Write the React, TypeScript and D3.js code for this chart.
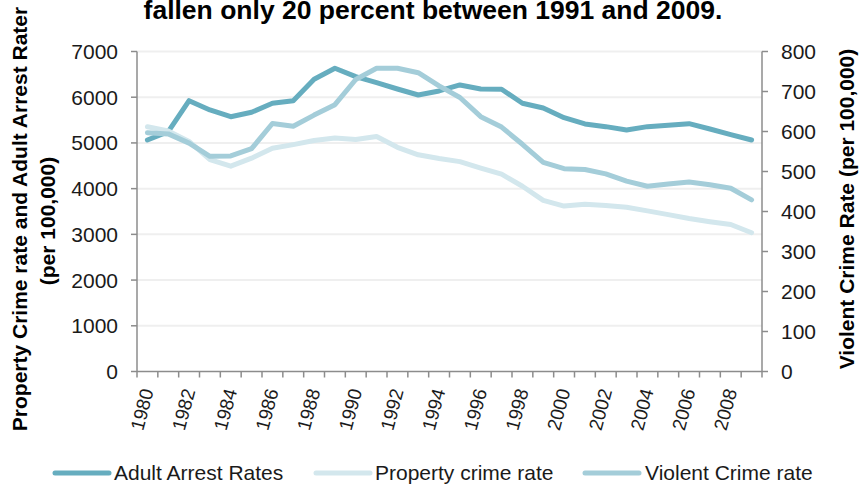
import React from "react";
import * as d3 from "d3";

const years: number[] = d3.range(1980, 2010);
const adultArrest: number[] = [5064, 5246, 5924, 5721, 5574, 5671, 5867, 5924, 6392, 6633, 6449, 6318, 6180, 6049, 6137, 6268, 6180, 6174, 5867, 5765, 5552, 5415, 5356, 5283, 5356, 5386, 5421, 5305, 5181, 5064];
const propertyCrime: number[] = [5353, 5264, 5033, 4637, 4492, 4666, 4882, 4963, 5054, 5107, 5073, 5140, 4904, 4740, 4660, 4591, 4451, 4316, 4053, 3744, 3618, 3658, 3631, 3591, 3514, 3432, 3347, 3276, 3215, 3036];
const violentCrime: number[] = [597, 594, 571, 538, 539, 557, 620, 613, 641, 667, 730, 758, 758, 747, 714, 685, 637, 611, 568, 523, 507, 505, 494, 476, 463, 469, 474, 467, 458, 429];
const leftTicks: number[] = [0, 1000, 2000, 3000, 4000, 5000, 6000, 7000];
const rightTicks: number[] = [0, 100, 200, 300, 400, 500, 600, 700, 800];
const xLabels: number[] = years.filter((y) => (y - 1980) % 2 === 0);

const seriesNames = ["Adult Arrest Rates", "Property crime rate", "Violent Crime rate"];
const colors = ["#66adbf", "#d3e7ed", "#a4cdd9"];

const W = 865;
const H = 489;
const FONT = "'Liberation Sans', Arial, sans-serif";

export default function App() {
  const x0 = 137, x1 = 762, yTop = 51.5, yBot = 371.5;
  const xBand = d3.scaleBand<number>().domain(years).range([x0, x1]).padding(0);
  const xc = (y: number) => (xBand(y) as number) + xBand.bandwidth() / 2;
  const yL = d3.scaleLinear().domain([0, 7000]).range([yBot, yTop]);
  const yR = d3.scaleLinear().domain([0, 800]).range([yBot, yTop]);

  const lineL = d3.line<number>().x((_, i) => xc(years[i])).y((d) => yL(d));
  const lineR = d3.line<number>().x((_, i) => xc(years[i])).y((d) => yR(d));

  const axisColor = "#8c8c8c";
  const boundaries = d3.range(years.length + 1).map((i) => x0 + i * xBand.bandwidth());

  const legendItems = [
    { name: seriesNames[0], color: colors[0], lx: 55, tx: 114 },
    { name: seriesNames[1], color: colors[1], lx: 316, tx: 375 },
    { name: seriesNames[2], color: colors[2], lx: 585, tx: 645 },
  ];

  return (
    <svg width={W} height={H} style={{ position: "absolute", left: 0, top: 0, background: "#fff" }} fontFamily={FONT}>
      <rect width={W} height={H} fill="#fff" />
      {/* Title */}
      <text x={433} y={19} textAnchor="middle" fontSize={26.5} fontWeight="bold" fill="#000">
        fallen only 20 percent between 1991 and 2009.
      </text>

      {/* Gridlines */}
      {leftTicks.filter((t) => t > 0).map((t) => (
        <line key={"g" + t} x1={x0} x2={x1} y1={yL(t)} y2={yL(t)} stroke="#efefef" strokeWidth={2} />
      ))}

      {/* Left axis */}
      <line x1={x0} x2={x0} y1={yTop} y2={yBot} stroke={axisColor} strokeWidth={1.5} />
      {leftTicks.map((t) => (
        <g key={"l" + t}>
          <line x1={x0 - 6} x2={x0} y1={yL(t)} y2={yL(t)} stroke={axisColor} strokeWidth={1.5} />
          <text x={118} y={yL(t)} dy="0.36em" textAnchor="end" fontSize={21} fill="#1a1a1a">{t}</text>
        </g>
      ))}

      {/* Right axis */}
      <line x1={x1} x2={x1} y1={yTop} y2={yBot} stroke={axisColor} strokeWidth={1.5} />
      {rightTicks.map((t) => (
        <g key={"r" + t}>
          <line x1={x1} x2={x1 + 6} y1={yR(t)} y2={yR(t)} stroke={axisColor} strokeWidth={1.5} />
          <text x={781} y={yR(t)} dy="0.36em" textAnchor="start" fontSize={21} fill="#1a1a1a">{t}</text>
        </g>
      ))}

      {/* X axis */}
      <line x1={x0} x2={x1} y1={yBot} y2={yBot} stroke={axisColor} strokeWidth={1.5} />
      {boundaries.map((bx, i) => (
        <line key={"xt" + i} x1={bx} x2={bx} y1={yBot} y2={yBot + 6} stroke={axisColor} strokeWidth={1.5} />
      ))}
      {xLabels.map((yr) => (
        <text
          key={"xl" + yr}
          transform={`translate(${xc(yr)},${389}) rotate(-75)`}
          dy="0.35em"
          textAnchor="end"
          fontSize={19}
          fill="#1a1a1a"
        >
          {yr}
        </text>
      ))}

      {/* Series */}
      <path d={lineL(adultArrest) || ""} fill="none" stroke={colors[0]} strokeWidth={5} strokeLinejoin="round" strokeLinecap="round" />
      <path d={lineL(propertyCrime) || ""} fill="none" stroke={colors[1]} strokeWidth={5} strokeLinejoin="round" strokeLinecap="round" />
      <path d={lineR(violentCrime) || ""} fill="none" stroke={colors[2]} strokeWidth={5} strokeLinejoin="round" strokeLinecap="round" />

      {/* Axis titles */}
      <text transform={`translate(27,219) rotate(-90)`} textAnchor="middle" fontSize={21} fontWeight="bold" fill="#000">
        Property Crime rate and Adult Arrest Rater
      </text>
      <text transform={`translate(55,221) rotate(-90)`} textAnchor="middle" fontSize={21} fontWeight="bold" fill="#000">
        (per 100,000)
      </text>
      <text transform={`translate(854,209) rotate(-90)`} textAnchor="middle" fontSize={21} fontWeight="bold" fill="#000">
        Violent Crime Rate (per 100,000)
      </text>

      {/* Legend */}
      {legendItems.map((it) => (
        <g key={it.name}>
          <line x1={it.lx} x2={it.lx + 54} y1={473} y2={473} stroke={it.color} strokeWidth={5} strokeLinecap="round" />
          <text x={it.tx} y={480} fontSize={21} fill="#1a1a1a">{it.name}</text>
        </g>
      ))}
    </svg>
  );
}
